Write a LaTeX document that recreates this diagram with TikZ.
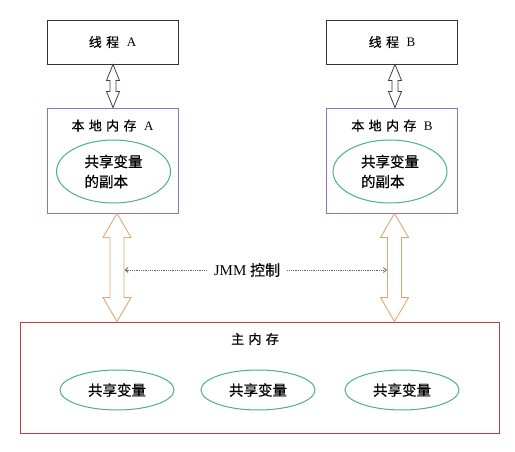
\documentclass[tikz,border=0pt]{standalone}
\usepackage{fontspec}
\setmainfont{Liberation Serif}
\newfontfamily\cjk[FakeBold=0.5]{Noto Sans CJK SC}
\usetikzlibrary{calc,arrows.meta,shapes.geometric}
\definecolor{purpleb}{HTML}{9B6FC0}
\definecolor{redb}{HTML}{C8383C}
\definecolor{tealb}{HTML}{4DAF8C}
\definecolor{orangeb}{HTML}{E2A774}
\newcommand\dblarr[6]{%
 \draw[#6] (#1) -- ($(#1)+(#4,#5)$) -- ($(#1)+(#3,#5)$) -- ($(#2)+(#3,-#5)$) -- ($(#2)+(#4,-#5)$) -- (#2) -- ($(#2)+(-#4,-#5)$) -- ($(#2)+(-#3,-#5)$) -- ($(#1)+(-#3,#5)$) -- ($(#1)+(-#4,#5)$) -- cycle;}
\tikzset{
  threadbox/.style={draw=black!80, line width=0.9pt, minimum width=131pt, minimum height=44pt, inner sep=0pt, font=\fontsize{13}{15}\selectfont},
  localbox/.style={draw=purpleb, line width=0.9pt, minimum width=131pt, minimum height=105pt, inner sep=0pt},
  mainbox/.style={draw=redb, line width=0.9pt, minimum width=479pt, minimum height=111pt, inner sep=0pt},
  varell/.style={draw=tealb, line width=1pt, ellipse, minimum width=114pt, inner sep=0pt, font=\cjk\fontsize{14.5}{20}\selectfont},
  lbl/.style={font=\fontsize{13}{15}\selectfont, inner sep=1pt},
  thinarr/.style={draw=black!75, fill=white, line width=0.8pt, line join=miter},
  wideonarr/.style={draw=orangeb, fill=white, line width=0.9pt, line join=miter},
  dotarr/.style={draw=black!60, densely dotted, line width=0.8pt, -{Straight Barb[length=3pt,width=5pt]}}
}
\begin{document}
\begin{tikzpicture}[x=1pt,y=-1pt]
\useasboundingbox[fill=white] (0,0) rectangle (515,452);
\node[threadbox] (ta) at (112.5,42) {{\cjk 线\,\,程}\,\, A};
\node[threadbox] (tb) at (392,42) {{\cjk 线\,\,程}\,\, B};
\node[localbox] (la) at (112.5,160.5) {};
\node[localbox] (lb) at (392,160.5) {};
\node[lbl] (lat) at ($(la.north)+(0,18)$) {{\cjk 本\,\,地\,\,内\,\,存}\,\, A};
\node[lbl] (lbt) at ($(lb.north)+(0,18)$) {{\cjk 本\,\,地\,\,内\,\,存}\,\, B};
\node[varell, minimum height=63pt, align=left] (ea) at (113.5,171.5) {共享变量\\的副本};
\node[varell, minimum height=63pt, align=left] (eb) at (390,171.5) {共享变量\\的副本};
\node[mainbox] (mm) at (259.5,377.5) {};
\node[lbl] (mmt) at (255,339) {\cjk 主\,\,内\,\,存};
\node[varell, minimum height=40pt] (e1) at (117,390) {共享变量};
\node[varell, minimum height=40pt] (e2) at (258,390) {共享变量};
\node[varell, minimum height=40pt] (e3) at (402,390) {共享变量};
% thread <-> local arrows
\coordinate (a1t) at ($(ta.south)+(0.5,0)$);
\coordinate (a1b) at (a1t |- la.north);
\coordinate (a2t) at ($(tb.south)+(3,0)$);
\coordinate (a2b) at (a2t |- lb.north);
\dblarr{a1t}{a1b}{3}{6.5}{16}{thinarr}
\dblarr{a2t}{a2b}{3}{6.5}{16}{thinarr}
% local <-> main arrows
\coordinate (o1t) at ($(la.south)+(4.5,0)$);
\coordinate (o1b) at (o1t |- mm.north);
\coordinate (o2t) at ($(lb.south)+(2.5,0)$);
\coordinate (o2b) at (o2t |- mm.north);
\dblarr{o1t}{o1b}{7}{14}{24}{wideonarr}
\dblarr{o2t}{o2b}{7}{14}{24}{wideonarr}
% JMM control
\node[lbl, font=\fontsize{15}{17}\selectfont] (jmm) at (247,270) {JMM {\cjk 控制}};
\coordinate (jl) at ($(o1t)!0.52!(o1b)+(7.5,0)$);
\coordinate (jr) at ($(o2t)!0.52!(o2b)+(-7.5,0)$);
\draw[dotarr] ($(jmm.west)+(-6,0)$) -- (jl |- jmm.west);
\draw[dotarr] ($(jmm.east)+(6,0)$) -- (jr |- jmm.east);
\end{tikzpicture}
\end{document}
